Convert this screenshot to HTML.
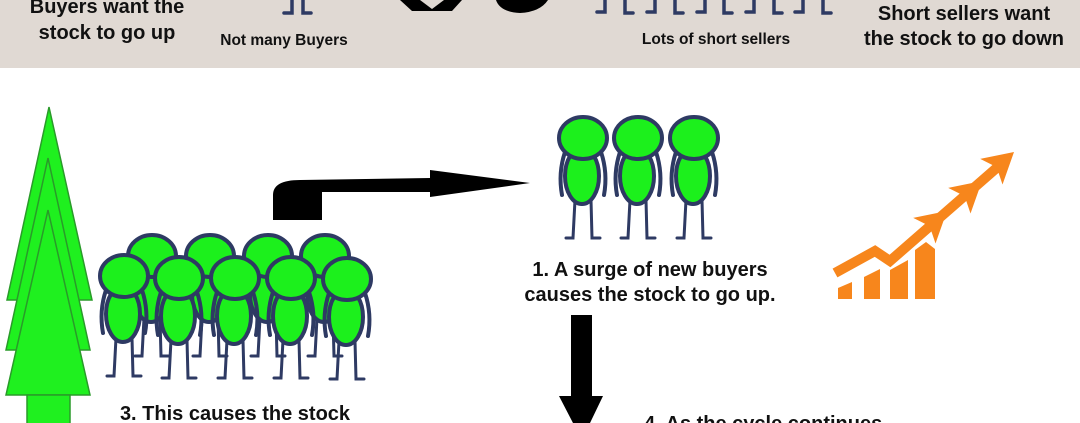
<!DOCTYPE html>
<html><head><style>
html,body{margin:0;padding:0;background:#fff;}
svg{display:block;}
text{font-family:"Liberation Sans",Arial,sans-serif;font-weight:bold;fill:#111;}
</style></head><body>
<svg width="1080" height="423" viewBox="0 0 1080 423" xmlns="http://www.w3.org/2000/svg">
<defs>
<g id="p">
  <path d="M-18,14 Q-25,35 -21,57" stroke="#2e3a63" stroke-width="4" fill="none" stroke-linecap="round"/>
  <path d="M18,14 Q25,35 21,57" stroke="#2e3a63" stroke-width="4" fill="none" stroke-linecap="round"/>
  <path d="M-8,62 L-10,100 L-17,100" stroke="#2e3a63" stroke-width="3" fill="none" stroke-linecap="round"/>
  <path d="M8,62 L9,100 L17,100" stroke="#2e3a63" stroke-width="3" fill="none" stroke-linecap="round"/>
  <ellipse cx="-1" cy="38" rx="17" ry="28" fill="#1cf01c" stroke="#2e3a63" stroke-width="4"/>
  <ellipse cx="0" cy="0" rx="24" ry="21" fill="#1cf01c" stroke="#2e3a63" stroke-width="4"/>
</g>
<polygon id="ah" points="0,0 -30,-17 -23,0 -30,17" fill="#f7861c"/>
</defs>
<rect x="0" y="0" width="1080" height="68" fill="#e0d9d3"/>
<text x="107" y="13" font-size="20" text-anchor="middle">Buyers want the</text>
<text x="107" y="39" font-size="20" text-anchor="middle">stock to go up</text>
<text x="284" y="45" font-size="15.5" text-anchor="middle">Not many Buyers</text>
<text x="716" y="44" font-size="15.5" text-anchor="middle">Lots of short sellers</text>
<text x="964" y="20" font-size="20" text-anchor="middle">Short sellers want</text>
<text x="964" y="45" font-size="20" text-anchor="middle">the stock to go down</text>
<path d="M400,0 L420,0 L432,9 L444,0 L462,0 L452,11 L412,11 Z" fill="#000"/>
<path d="M496,0 L548,0 Q540,12 520,13 Q500,12 496,0 Z" fill="#000"/>
<g stroke="#2e3a63" stroke-width="3.5" fill="none" stroke-linecap="round">
<path d="M292,0 L292,13 L284,13"/><path d="M303,0 L303,13 L311,13"/>
<path d="M605,0 L605,12 L597,12"/><path d="M625,0 L625,13 L633,13"/>
<path d="M655,0 L655,12 L647,12"/><path d="M675,0 L675,13 L683,13"/>
<path d="M705,0 L705,12 L697,12"/><path d="M724,0 L724,13 L732,13"/>
<path d="M754,0 L754,12 L746,12"/><path d="M774,0 L774,13 L782,13"/>
<path d="M803,0 L803,12 L795,12"/><path d="M823,0 L823,13 L831,13"/>
</g>
<g fill="#1ff01f" stroke="#2a9a2a" stroke-width="1.5">
<polygon points="49,107 92,300 7,300"/>
<polygon points="48,158 90,350 6,350"/>
<polygon points="48,210 90,395 6,395"/>
<rect x="27" y="395" width="43" height="30"/>
</g>
<path d="M273,220 L273,195 Q273,180 300,180 L430,178 L430,170 L530,183 L430,197 L430,192 L322,192 L322,220 Z" fill="#000"/>
<use href="#p" x="152" y="256"/><use href="#p" x="210" y="256"/><use href="#p" x="268" y="256"/><use href="#p" x="325" y="256"/>
<use href="#p" x="124" y="276"/><use href="#p" x="179" y="278"/><use href="#p" x="235" y="278"/><use href="#p" x="291" y="278"/><use href="#p" x="347" y="279"/>
<use href="#p" x="583" y="138"/><use href="#p" x="638" y="138"/><use href="#p" x="694" y="138"/>
<text x="650" y="276" font-size="20" text-anchor="middle">1. A surge of new buyers</text>
<text x="650" y="301" font-size="20" text-anchor="middle">causes the stock to go up.</text>
<text x="235" y="420" font-size="20" text-anchor="middle">3. This causes the stock</text>
<text x="644" y="430" font-size="20">4. As the cycle continues</text>
<path d="M571,315 L592,315 L592,396 L603,396 L590,423 L573,423 L559,396 L571,396 Z" fill="#000"/>
<g fill="#f7861c">
<polygon points="838,288 852,282 852,299 838,299"/>
<polygon points="864,277 880,269 880,299 864,299"/>
<polygon points="890,270 908,260 908,299 890,299"/>
<polygon points="915,250 926,242 935,249 935,299 915,299"/>
</g>
<polyline points="835,273 875,251 890,261 1000,165" stroke="#f7861c" stroke-width="10" fill="none"/>
<use href="#ah" transform="translate(947,211) rotate(-41)"/>
<use href="#ah" transform="translate(982,181) rotate(-41)"/>
<use href="#ah" transform="translate(1014,152) rotate(-41)"/>
</svg>
</body></html>
